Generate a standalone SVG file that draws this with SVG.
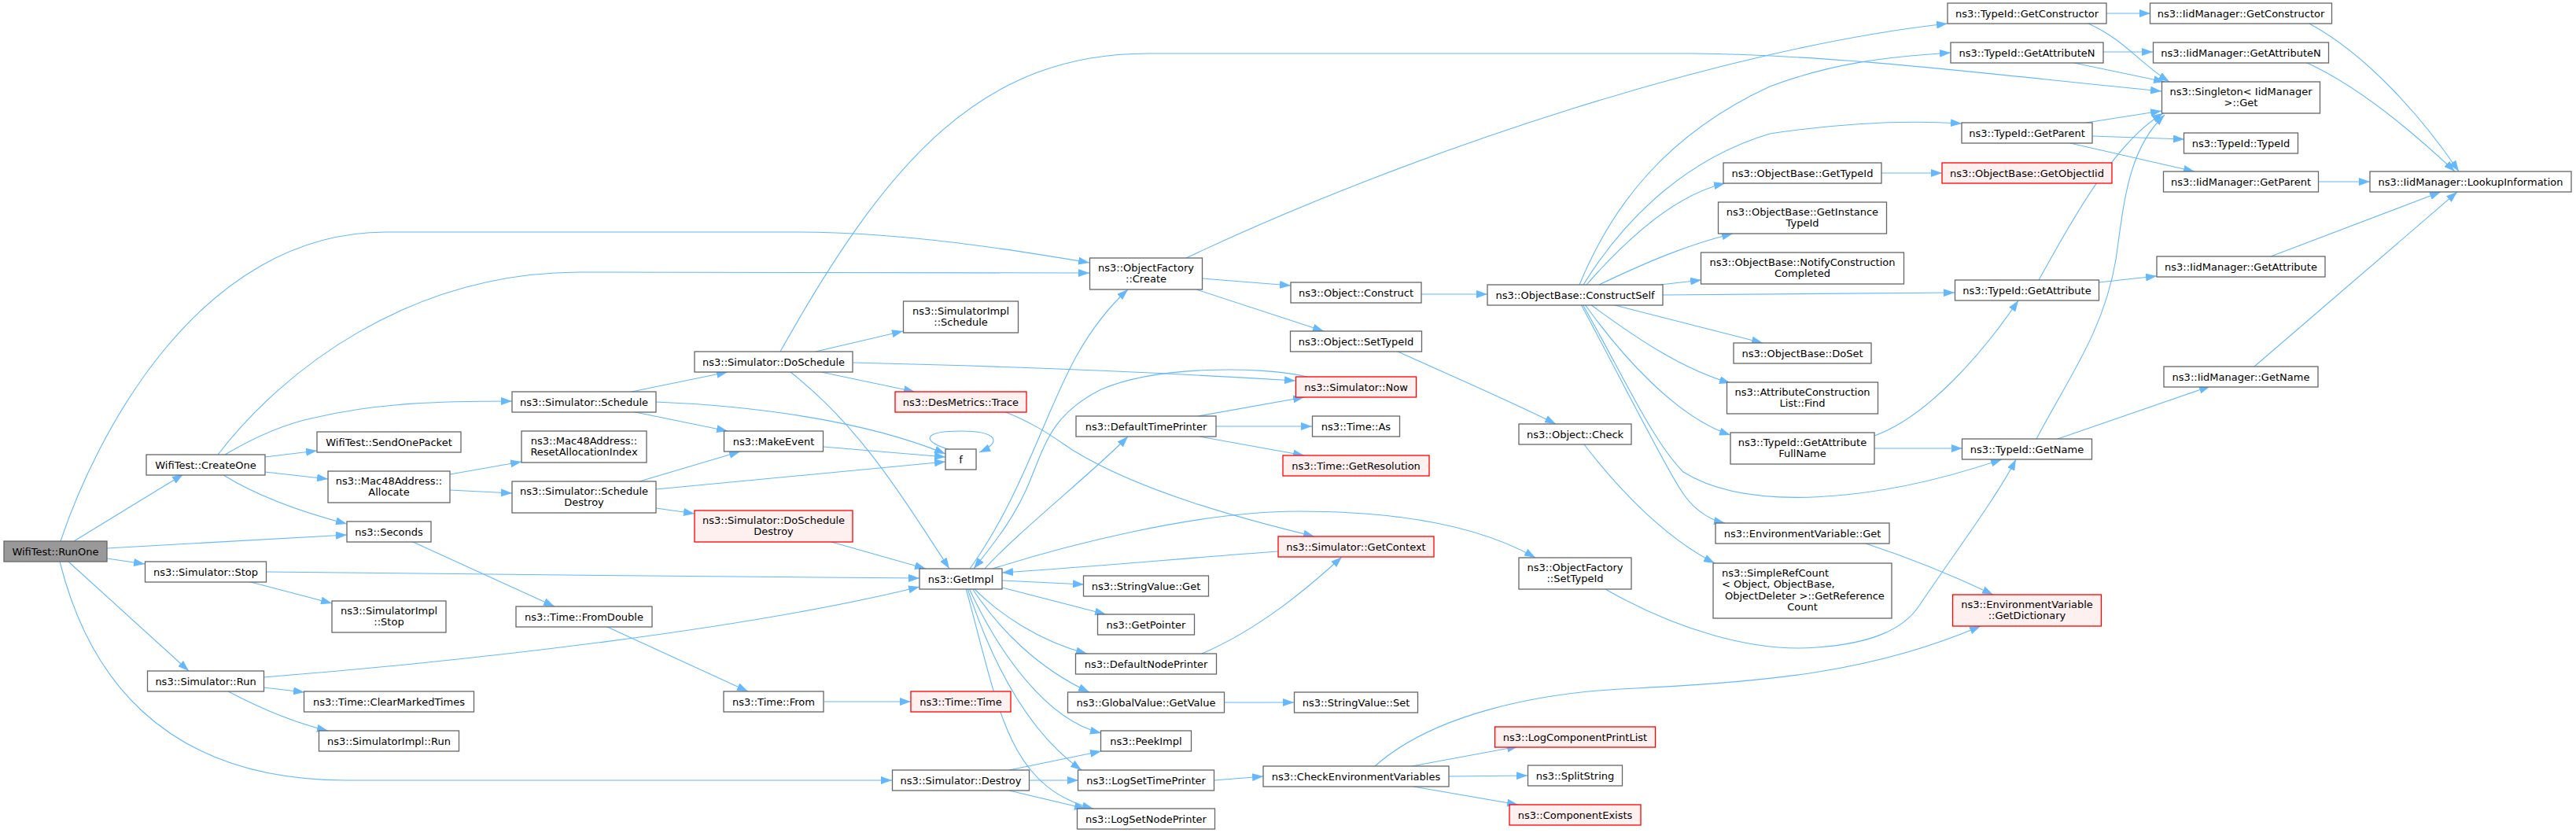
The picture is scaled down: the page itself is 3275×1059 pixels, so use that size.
<svg xmlns="http://www.w3.org/2000/svg" width="3275" height="1059" viewBox="0 0 3275 1059">
<defs>
<marker id="a" markerUnits="userSpaceOnUse" markerWidth="14" markerHeight="10" refX="14" refY="5" orient="auto" viewBox="0 0 14 10"><path d="M0,0 L14,5 L0,10 z" fill="#63B8FF"/></marker>
</defs>
<style>
.node rect{fill:#ffffff;stroke:#666666;stroke-width:1.3}
.node.red rect{fill:#fff0f0;stroke:#ff0000}
.node.root rect{fill:#999999;stroke:#666666}
text{font-family:"DejaVu Sans","Liberation Sans",sans-serif;font-size:13px;fill:#000;text-anchor:middle}
text.l{text-anchor:start}
#edges path{fill:none;stroke:#63B8FF;stroke-width:1.1;marker-end:url(#a)}
</style>
<rect width="3275" height="1059" fill="#ffffff"/>
<g id="edges">
<path d="M94,688 L233,603"/>
<path d="M77,688 C120,560 250,295 491,295 L1010,295 C1150,295 1290,318 1385,334"/>
<path d="M277,578 C360,470 520,347 735,346 L1385,347"/>
<path d="M286,578 C330,552 370,537 400,531 C480,512 560,510 651,510"/>
<path d="M337,581 L403,573"/>
<path d="M337,600 L417,609"/>
<path d="M284,604 C310,620 360,645 441,666"/>
<path d="M136,697 L441,680"/>
<path d="M136,710 L184,717"/>
<path d="M87,714 L240,853"/>
<path d="M76,714 C110,850 200,992 440,992 L1134,992"/>
<path d="M338,727 C600,730 900,733 1169,735"/>
<path d="M315,739 L422,767"/>
<path d="M335,861 C600,840 950,800 1169,746"/>
<path d="M335,874 L387,880"/>
<path d="M290,879 C330,900 370,918 417,929"/>
<path d="M525,689 L705,771"/>
<path d="M572,603 L663,587"/>
<path d="M572,623 L651,627"/>
<path d="M803,498 L925,473"/>
<path d="M803,523 L925,548"/>
<path d="M834,511 C960,516 1100,535 1202,577"/>
<path d="M1047,568 L1202,581"/>
<path d="M813,612 L941,574"/>
<path d="M834,622 L1202,587"/>
<path d="M834,646 L883,653"/>
<path d="M1037,447 L1148,421"/>
<path d="M1084,461 C1300,466 1500,475 1647,484"/>
<path d="M1044,473 L1163,498"/>
<path d="M1005,473 C1090,540 1140,620 1207,723"/>
<path d="M992,447 C1130,200 1250,68 1460,68 L2150,68 C2350,70 2550,97 2748,116"/>
<path d="M1205,571 C1170,560 1175,548 1221,548 C1268,548 1275,562 1245,575"/>
<path d="M1057,689 L1177,723"/>
<path d="M772,797 L951,879"/>
<path d="M1048,892 L1158,892"/>
<path d="M1276,523 C1320,540 1345,560 1365,573 C1450,625 1580,660 1671,682"/>
<path d="M1233,723 C1300,630 1330,520 1370,450 C1390,415 1410,390 1434,368"/>
<path d="M1662,479 C1600,465 1470,465 1400,495 C1340,525 1330,560 1310,610 C1290,660 1260,695 1238,723"/>
<path d="M1252,723 C1290,680 1390,600 1434,555"/>
<path d="M1262,723 C1350,695 1520,650 1650,650 C1780,650 1880,668 1952,709"/>
<path d="M1625,701 C1500,710 1400,720 1274,728"/>
<path d="M1274,738 L1378,743"/>
<path d="M1274,747 L1406,781"/>
<path d="M1238,748 C1270,780 1320,815 1382,831"/>
<path d="M1236,748 C1270,800 1320,850 1385,880"/>
<path d="M1232,748 C1270,830 1330,915 1400,932"/>
<path d="M1230,748 C1270,870 1320,940 1375,979"/>
<path d="M1228,748 C1270,900 1280,1000 1390,1028"/>
<path d="M1283,979 L1400,955"/>
<path d="M1308,992 L1371,992"/>
<path d="M1283,1005 L1380,1028"/>
<path d="M1557,893 L1645,893"/>
<path d="M1544,992 L1606,987"/>
<path d="M1795,974 L1930,949"/>
<path d="M1842,987 L1942,986"/>
<path d="M1797,1000 L1930,1023"/>
<path d="M1748,974 C1820,910 1950,880 2080,875 C2250,866 2380,855 2518,796"/>
<path d="M1528,354 L1641,363"/>
<path d="M1521,368 L1683,421"/>
<path d="M1508,328 C1800,190 2200,60 2476,30"/>
<path d="M1807,374 L1891,374"/>
<path d="M1775,446 C1850,480 1920,510 1978,539"/>
<path d="M2014,565 C2050,612 2110,680 2180,716"/>
<path d="M2041,749 C2130,800 2230,830 2310,823 C2380,818 2420,800 2440,770 C2480,710 2540,630 2563,584"/>
<path d="M2372,691 C2430,710 2490,735 2534,756"/>
<path d="M2017,362 C2080,290 2140,245 2193,233"/>
<path d="M2033,362 C2100,330 2150,310 2203,297"/>
<path d="M2111,362 L2163,356"/>
<path d="M2114,375 L2485,372"/>
<path d="M2049,387 L2241,436"/>
<path d="M2022,387 C2080,430 2140,470 2200,487"/>
<path d="M2015,387 C2060,450 2130,530 2200,553"/>
<path d="M2012,387 C2060,470 2100,560 2140,600 C2220,650 2380,640 2545,584"/>
<path d="M2010,387 C2060,480 2110,580 2135,620 C2150,645 2170,660 2193,665"/>
<path d="M2008,362 C2050,260 2120,170 2250,110 C2330,80 2400,72 2480,67"/>
<path d="M2013,362 C2070,270 2150,200 2250,170 C2350,155 2430,153 2494,157"/>
<path d="M2392,220 L2469,220"/>
<path d="M2678,17 L2734,17"/>
<path d="M2655,30 C2700,50 2720,80 2758,104"/>
<path d="M2674,66 L2737,66"/>
<path d="M2637,80 L2752,104"/>
<path d="M2652,156 L2748,141"/>
<path d="M2660,173 L2777,177"/>
<path d="M2632,182 L2790,218"/>
<path d="M2947,231 L3013,231"/>
<path d="M2936,30 C3010,70 3080,150 3126,218"/>
<path d="M2931,79 C3000,110 3070,170 3121,218"/>
<path d="M2887,326 L3103,244"/>
<path d="M2866,466 L3124,244"/>
<path d="M2668,359 L2742,351"/>
<path d="M2592,356 C2640,270 2690,180 2750,144"/>
<path d="M2589,558 C2630,480 2675,420 2690,330 C2700,260 2705,190 2752,146"/>
<path d="M2616,558 L2810,491"/>
<path d="M2383,554 C2450,530 2520,450 2566,382"/>
<path d="M2383,570 L2495,570"/>
<path d="M1523,529 L1658,505"/>
<path d="M1546,542 L1668,542"/>
<path d="M1525,555 L1658,579"/>
<path d="M1528,831 C1600,800 1660,750 1706,708"/>
</g>
<g id="n1" class="node root"><rect x="5" y="688" width="131" height="26"/><text x="70.5" y="705.7">WifiTest::RunOne</text></g>
<g id="n2" class="node"><rect x="186" y="578" width="151" height="26"/><text x="261.5" y="595.7">WifiTest::CreateOne</text></g>
<g id="n3" class="node"><rect x="184.5" y="714" width="154" height="26"/><text x="261.5" y="731.7">ns3::Simulator::Stop</text></g>
<g id="n4" class="node"><rect x="187.5" y="853" width="148" height="26"/><text x="261.5" y="870.7">ns3::Simulator::Run</text></g>
<g id="n5" class="node"><rect x="403" y="549" width="183" height="26"/><text x="494.5" y="566.7">WifiTest::SendOnePacket</text></g>
<g id="n6" class="node"><rect x="417" y="599" width="155" height="40"/><text x="494.5" y="615.5">ns3::Mac48Address::</text><text x="494.5" y="630">Allocate</text></g>
<g id="n7" class="node"><rect x="441" y="663" width="107" height="26"/><text x="494.5" y="680.7">ns3::Seconds</text></g>
<g id="n8" class="node"><rect x="422" y="764" width="145" height="40"/><text x="494.5" y="780.5">ns3::SimulatorImpl</text><text x="494.5" y="795">::Stop</text></g>
<g id="n9" class="node"><rect x="386.5" y="879" width="216" height="26"/><text x="494.5" y="896.7">ns3::Time::ClearMarkedTimes</text></g>
<g id="n10" class="node"><rect x="405.5" y="929" width="178" height="26"/><text x="494.5" y="946.7">ns3::SimulatorImpl::Run</text></g>
<g id="n11" class="node"><rect x="651" y="498" width="183" height="26"/><text x="742.5" y="515.7">ns3::Simulator::Schedule</text></g>
<g id="n12" class="node"><rect x="663" y="548" width="159" height="40"/><text x="742.5" y="564.5">ns3::Mac48Address::</text><text x="742.5" y="579">ResetAllocationIndex</text></g>
<g id="n13" class="node"><rect x="651" y="612" width="183" height="40"/><text x="742.5" y="628.5">ns3::Simulator::Schedule</text><text x="742.5" y="643">Destroy</text></g>
<g id="n14" class="node"><rect x="656" y="771" width="173" height="26"/><text x="742.5" y="788.7">ns3::Time::FromDouble</text></g>
<g id="n15" class="node"><rect x="1134.5" y="979" width="174" height="26"/><text x="1221.5" y="996.7">ns3::Simulator::Destroy</text></g>
<g id="n16" class="node"><rect x="883" y="447" width="201" height="26"/><text x="983.5" y="464.7">ns3::Simulator::DoSchedule</text></g>
<g id="n17" class="node"><rect x="920.5" y="548" width="126" height="26"/><text x="983.5" y="565.7">ns3::MakeEvent</text></g>
<g id="n18" class="node red"><rect x="883" y="649" width="201" height="40"/><text x="983.5" y="665.5">ns3::Simulator::DoSchedule</text><text x="983.5" y="680">Destroy</text></g>
<g id="n19" class="node"><rect x="920" y="879" width="127" height="26"/><text x="983.5" y="896.7">ns3::Time::From</text></g>
<g id="n20" class="node"><rect x="1148.5" y="383" width="146" height="40"/><text x="1221.5" y="399.5">ns3::SimulatorImpl</text><text x="1221.5" y="414">::Schedule</text></g>
<g id="n21" class="node red"><rect x="1138" y="498" width="167" height="26"/><text x="1221.5" y="515.7">ns3::DesMetrics::Trace</text></g>
<g id="n22" class="node"><rect x="1202" y="571" width="39" height="26"/><text x="1221.5" y="588.7">f</text></g>
<g id="n23" class="node"><rect x="1169" y="723" width="105" height="26"/><text x="1221.5" y="740.7">ns3::GetImpl</text></g>
<g id="n24" class="node red"><rect x="1158" y="879" width="127" height="26"/><text x="1221.5" y="896.7">ns3::Time::Time</text></g>
<g id="n25" class="node"><rect x="1385.5" y="328" width="143" height="40"/><text x="1457" y="344.5">ns3::ObjectFactory</text><text x="1457" y="359">::Create</text></g>
<g id="n26" class="node"><rect x="1368" y="529" width="178" height="26"/><text x="1457" y="546.7">ns3::DefaultTimePrinter</text></g>
<g id="n27" class="node"><rect x="1377.5" y="732" width="159" height="26"/><text x="1457" y="749.7">ns3::StringValue::Get</text></g>
<g id="n28" class="node"><rect x="1395.5" y="781" width="123" height="26"/><text x="1457" y="798.7">ns3::GetPointer</text></g>
<g id="n29" class="node"><rect x="1367.5" y="831" width="179" height="26"/><text x="1457" y="848.7">ns3::DefaultNodePrinter</text></g>
<g id="n30" class="node"><rect x="1357.5" y="880" width="199" height="26"/><text x="1457" y="897.7">ns3::GlobalValue::GetValue</text></g>
<g id="n31" class="node"><rect x="1399.5" y="929" width="115" height="26"/><text x="1457" y="946.7">ns3::PeekImpl</text></g>
<g id="n32" class="node"><rect x="1370.5" y="979" width="173" height="26"/><text x="1457" y="996.7">ns3::LogSetTimePrinter</text></g>
<g id="n33" class="node"><rect x="1369.5" y="1028" width="175" height="26"/><text x="1457" y="1045.7">ns3::LogSetNodePrinter</text></g>
<g id="n34" class="node"><rect x="1641" y="359" width="166" height="26"/><text x="1724" y="376.7">ns3::Object::Construct</text></g>
<g id="n35" class="node"><rect x="1640.5" y="421" width="167" height="26"/><text x="1724" y="438.7">ns3::Object::SetTypeId</text></g>
<g id="n36" class="node red"><rect x="1647.5" y="479" width="153" height="26"/><text x="1724" y="496.7">ns3::Simulator::Now</text></g>
<g id="n37" class="node"><rect x="1668.5" y="529" width="111" height="26"/><text x="1724" y="546.7">ns3::Time::As</text></g>
<g id="n38" class="node red"><rect x="1631" y="579" width="186" height="26"/><text x="1724" y="596.7">ns3::Time::GetResolution</text></g>
<g id="n39" class="node red"><rect x="1625" y="682" width="198" height="26"/><text x="1724" y="699.7">ns3::Simulator::GetContext</text></g>
<g id="n40" class="node"><rect x="1645.5" y="880" width="157" height="26"/><text x="1724" y="897.7">ns3::StringValue::Set</text></g>
<g id="n41" class="node"><rect x="1606" y="974" width="236" height="26"/><text x="1724" y="991.7">ns3::CheckEnvironmentVariables</text></g>
<g id="n42" class="node"><rect x="1891" y="362" width="223" height="26"/><text x="2002.5" y="379.7">ns3::ObjectBase::ConstructSelf</text></g>
<g id="n43" class="node"><rect x="1931" y="539" width="143" height="26"/><text x="2002.5" y="556.7">ns3::Object::Check</text></g>
<g id="n44" class="node"><rect x="1931" y="709" width="143" height="40"/><text x="2002.5" y="725.5">ns3::ObjectFactory</text><text x="2002.5" y="740">::SetTypeId</text></g>
<g id="n45" class="node red"><rect x="1900.5" y="924" width="204" height="26"/><text x="2002.5" y="941.7">ns3::LogComponentPrintList</text></g>
<g id="n46" class="node"><rect x="1942.5" y="973" width="120" height="26"/><text x="2002.5" y="990.7">ns3::SplitString</text></g>
<g id="n47" class="node red"><rect x="1919" y="1023" width="167" height="26"/><text x="2002.5" y="1040.7">ns3::ComponentExists</text></g>
<g id="n48" class="node"><rect x="2191" y="207" width="201" height="26"/><text x="2291.5" y="224.7">ns3::ObjectBase::GetTypeId</text></g>
<g id="n49" class="node"><rect x="2184.5" y="257" width="214" height="40"/><text x="2291.5" y="273.5">ns3::ObjectBase::GetInstance</text><text x="2291.5" y="288">TypeId</text></g>
<g id="n50" class="node"><rect x="2162.5" y="321" width="258" height="40"/><text x="2291.5" y="337.5">ns3::ObjectBase::NotifyConstruction</text><text x="2291.5" y="352">Completed</text></g>
<g id="n51" class="node"><rect x="2204" y="436" width="175" height="26"/><text x="2291.5" y="453.7">ns3::ObjectBase::DoSet</text></g>
<g id="n52" class="node"><rect x="2195.5" y="486" width="192" height="40"/><text x="2291.5" y="502.5">ns3::AttributeConstruction</text><text x="2291.5" y="517">List::Find</text></g>
<g id="n53" class="node"><rect x="2200" y="550" width="183" height="40"/><text x="2291.5" y="566.5">ns3::TypeId::GetAttribute</text><text x="2291.5" y="581">FullName</text></g>
<g id="n54" class="node"><rect x="2181" y="665" width="221" height="26"/><text x="2291.5" y="682.7">ns3::EnvironmentVariable::Get</text></g>
<g id="n55" class="node"><rect x="2178" y="716" width="227" height="70"/><text class="l" x="2189" y="732.5">ns3::SimpleRefCount</text><text class="l" x="2189" y="747">&lt; Object, ObjectBase,</text><text class="l" x="2193" y="761.5">ObjectDeleter &gt;::GetReference</text><text x="2291.5" y="776">Count</text></g>
<g id="n56" class="node"><rect x="2476" y="4" width="202" height="26"/><text x="2577" y="21.7">ns3::TypeId::GetConstructor</text></g>
<g id="n57" class="node"><rect x="2480" y="54" width="194" height="26"/><text x="2577" y="71.7">ns3::TypeId::GetAttributeN</text></g>
<g id="n58" class="node"><rect x="2494" y="156" width="166" height="26"/><text x="2577" y="173.7">ns3::TypeId::GetParent</text></g>
<g id="n59" class="node red"><rect x="2469" y="207" width="216" height="26"/><text x="2577" y="224.7">ns3::ObjectBase::GetObjectIid</text></g>
<g id="n60" class="node"><rect x="2485.5" y="356" width="183" height="26"/><text x="2577" y="373.7">ns3::TypeId::GetAttribute</text></g>
<g id="n61" class="node"><rect x="2494.5" y="558" width="165" height="26"/><text x="2577" y="575.7">ns3::TypeId::GetName</text></g>
<g id="n62" class="node red"><rect x="2482.5" y="756" width="189" height="40"/><text x="2577" y="772.5">ns3::EnvironmentVariable</text><text x="2577" y="787">::GetDictionary</text></g>
<g id="n63" class="node"><rect x="2733.5" y="4" width="231" height="26"/><text x="2849" y="21.7">ns3::IidManager::GetConstructor</text></g>
<g id="n64" class="node"><rect x="2737.5" y="54" width="223" height="26"/><text x="2849" y="71.7">ns3::IidManager::GetAttributeN</text></g>
<g id="n65" class="node"><rect x="2748.5" y="104" width="201" height="40"/><text x="2849" y="120.5">ns3::Singleton&lt; IidManager</text><text x="2849" y="135">&gt;::Get</text></g>
<g id="n66" class="node"><rect x="2776.5" y="169" width="145" height="26"/><text x="2849" y="186.7">ns3::TypeId::TypeId</text></g>
<g id="n67" class="node"><rect x="2750.5" y="218" width="197" height="26"/><text x="2849" y="235.7">ns3::IidManager::GetParent</text></g>
<g id="n68" class="node"><rect x="2742" y="326" width="214" height="26"/><text x="2849" y="343.7">ns3::IidManager::GetAttribute</text></g>
<g id="n69" class="node"><rect x="2751" y="466" width="196" height="26"/><text x="2849" y="483.7">ns3::IidManager::GetName</text></g>
<g id="n70" class="node"><rect x="3013" y="218" width="256" height="26"/><text x="3141" y="235.7">ns3::IidManager::LookupInformation</text></g>
</svg>
